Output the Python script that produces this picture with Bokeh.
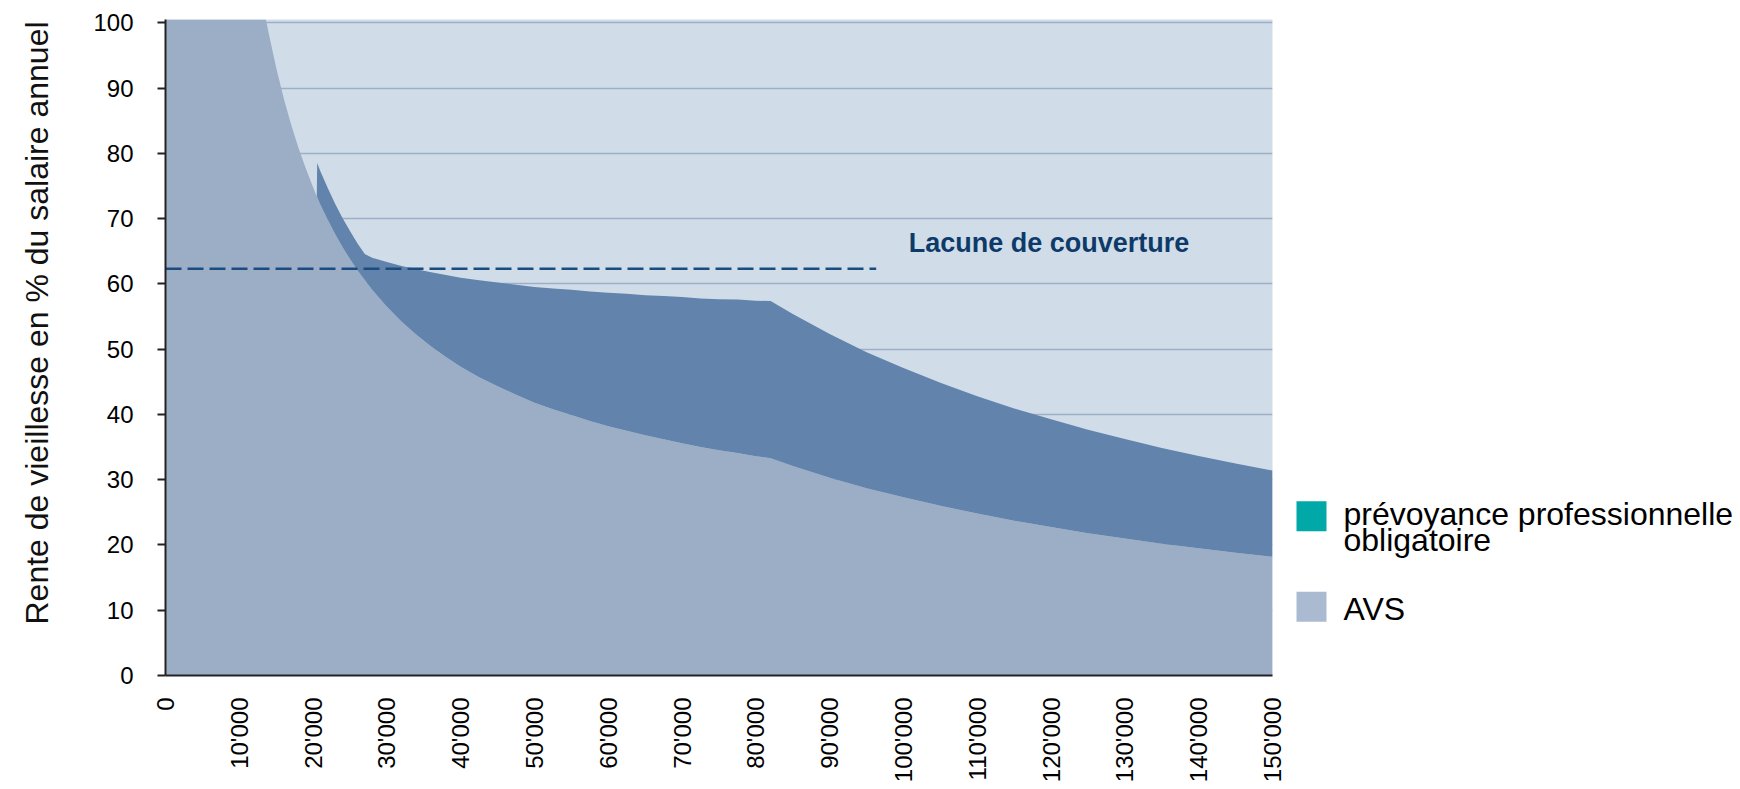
import math
from bokeh.plotting import figure
from bokeh.layouts import row
from bokeh.models import ColumnDataSource, FixedTicker, Range1d, Label
from bokeh.core.properties import value
from bokeh.embed import file_html
from bokeh.resources import INLINE

# ---------------- data ----------------
salary = [0, 13600, 13700, 14000, 15000, 16000, 17000, 18000, 19000, 20000, 20500,
          20550, 21000, 22000, 23000, 24000, 25000, 26000, 27000, 28000, 30000,
          32000, 34000, 36000, 38000, 40000, 42500, 45000, 47500, 50000, 52500,
          55000, 57500, 60000, 62500, 65000, 67500, 70000, 72500, 75000, 77500,
          80000, 82000, 85000, 90000, 95000, 100000, 105000, 110000, 115000, 120000,
          125000, 130000, 135000, 140000, 145000, 150000]

avs = [100.5, 100.5, 100, 98.3, 93.1, 88.5, 84.5, 80.9, 77.7, 74.8, 73.4,
       73.3, 72.1, 69.8, 67.6, 65.6, 63.8, 62.1, 60.6, 59.1, 56.5,
       54.2, 52.2, 50.4, 48.8, 47.3, 45.7, 44.3, 43.0, 41.8, 40.8,
       39.9, 39.0, 38.2, 37.5, 36.8, 36.2, 35.6, 35.0, 34.5, 34.1,
       33.6, 33.3, 32.1, 30.3, 28.7, 27.3, 26.0, 24.8, 23.7, 22.75,
       21.8, 21.0, 20.2, 19.5, 18.8, 18.2]

bvg = [0, 0, 0, 0, 0, 0, 0, 0, 0, 0, 0,
       5.2, 5.1, 4.86, 4.65, 4.46, 4.28, 4.12, 3.96, 4.91, 6.85,
       8.55, 10.05, 11.38, 12.57, 13.64, 14.84, 15.9, 16.85, 17.71, 18.49,
       19.19, 19.84, 20.43, 20.97, 21.47, 21.93, 22.37, 22.77, 23.14, 23.49,
       23.82, 24.07, 23.29, 22.0, 20.84, 19.8, 18.86, 18.0, 17.22, 16.5,
       15.84, 15.23, 14.67, 14.14, 13.66, 13.2]

y_ticks = [0, 10, 20, 30, 40, 50, 60, 70, 80, 90, 100]
x_ticks = [0, 10000, 20000, 30000, 40000, 50000, 60000, 70000, 80000, 90000,
           100000, 110000, 120000, 130000, 140000, 150000]
x_tick_labels = ["0", "10'000", "20'000", "30'000", "40'000", "50'000", "60'000",
                 "70'000", "80'000", "90'000", "100'000", "110'000", "120'000",
                 "130'000", "140'000", "150'000"]

gap_level = 62.3          # dashed "target" level in %
gap_end = 96300           # salary where the dashed line stops
gap_text = "Lacune de couverture"
gap_text_pos = (100700, 66.3)

y_title = "Rente de vieillesse en % du salaire annuel"
legend_labels = ["prévoyance professionnelle", "obligatoire", "AVS"]

# ---------------- styling / layout ----------------
FONT = "Liberation Sans"
C_BG = "#D0DDE9"
C_AVS = "#9CAEC6"
C_BVG = "#6283AC"
C_GRID = "#9DAFC7"
C_NAVY = "#0E3A6A"
C_LEG_BVG = "#00A8A8"
C_LEG_AVS = "#AABBD1"

H = 786
TOP = 19
BOTTOM = 111
FRAME_B = H - BOTTOM
W_T = 62
W_P = 1226
W_Q = 448
Y_MAX = 100.5

# ---- main chart ----
p = figure(width=W_P, height=H, output_backend="svg", toolbar_location=None,
           x_range=Range1d(0, 150000), y_range=Range1d(0, Y_MAX),
           min_border_left=103, min_border_right=16, min_border_top=TOP,
           min_border_bottom=BOTTOM)
p.background_fill_color = C_BG
p.border_fill_color = "white"
p.outline_line_color = None

src = ColumnDataSource(dict(salary=salary, avs=avs, bvg=bvg))
p.varea_stack(["avs", "bvg"], x="salary", source=src, color=[C_AVS, C_BVG])

p.line([0, gap_end], [gap_level, gap_level], line_color="#1A4C80",
       line_width=2.5, line_dash="16 6")

p.add_layout(Label(x=gap_text_pos[0], y=gap_text_pos[1], text=gap_text,
                   text_font=FONT, text_font_size="27px",
                   text_font_style="bold", text_color=C_NAVY,
                   text_baseline="alphabetic", text_align="left"))

p.xgrid.visible = False
p.ygrid.grid_line_color = C_GRID
p.ygrid.grid_line_width = 1.5

p.yaxis.ticker = FixedTicker(ticks=y_ticks)
p.yaxis.minor_tick_line_color = None
p.yaxis.major_tick_out = 8
p.yaxis.major_tick_in = 0
p.yaxis.major_tick_line_width = 2
p.yaxis.major_tick_line_color = "#222222"
p.yaxis.axis_line_width = 2
p.yaxis.axis_line_color = "#222222"
p.yaxis.major_label_standoff = 24
p.yaxis.major_label_text_font = FONT
p.yaxis.major_label_text_font_size = "24px"
p.yaxis.major_label_text_color = "#000000"

p.xaxis.ticker = FixedTicker(ticks=x_ticks)
p.xaxis.major_label_overrides = {t: l for t, l in zip(x_ticks, x_tick_labels)}
p.xaxis.minor_tick_line_color = None
p.xaxis.major_tick_line_color = None
p.xaxis.major_tick_out = 0
p.xaxis.major_tick_in = 0
p.xaxis.axis_line_width = 2
p.xaxis.axis_line_color = "#222222"
p.xaxis.major_label_orientation = math.pi / 2
p.xaxis.major_label_standoff = 22
p.xaxis.major_label_text_font = FONT
p.xaxis.major_label_text_font_size = "24px"
p.xaxis.major_label_text_color = "#000000"

# ---- y title panel (frame aligned with the chart) ----
t = figure(width=W_T, height=H, output_backend="svg", toolbar_location=None,
           x_range=Range1d(0, W_T), y_range=p.y_range,
           x_axis_type=None, y_axis_type=None,
           min_border_left=0, min_border_right=0, min_border_top=TOP,
           min_border_bottom=BOTTOM)
t.outline_line_color = None
t.grid.visible = False
t.background_fill_color = "white"
t.border_fill_color = "white"
t.text(x=[36], y=[100.2], text=[y_title], angle=math.pi / 2,
       text_font=value(FONT), text_font_size="32px", text_color="#111111",
       text_align="right", text_baseline="alphabetic")

# ---- legend panel (data y == canvas y) ----
q = figure(width=W_Q, height=H, output_backend="svg", toolbar_location=None,
           x_range=Range1d(0, W_Q), y_range=Range1d(FRAME_B, TOP),
           x_axis_type=None, y_axis_type=None,
           min_border_left=0, min_border_right=0, min_border_top=TOP,
           min_border_bottom=BOTTOM)
q.outline_line_color = None
q.grid.visible = False
q.background_fill_color = "white"
q.border_fill_color = "white"

q.rect(x=[23, 23], y=[515.7, 606.3], width=30, height=30,
       fill_color=[C_LEG_BVG, C_LEG_AVS], line_color=None)
q.text(x=[55, 55, 55], y=[513.8, 539.5, 608.8], text=legend_labels,
       text_font=value(FONT), text_font_size="32px", text_color="#000000",
       text_baseline="alphabetic", text_align="left")

layout = row(t, p, q)
open("out.html", "w").write(file_html(layout, INLINE))
